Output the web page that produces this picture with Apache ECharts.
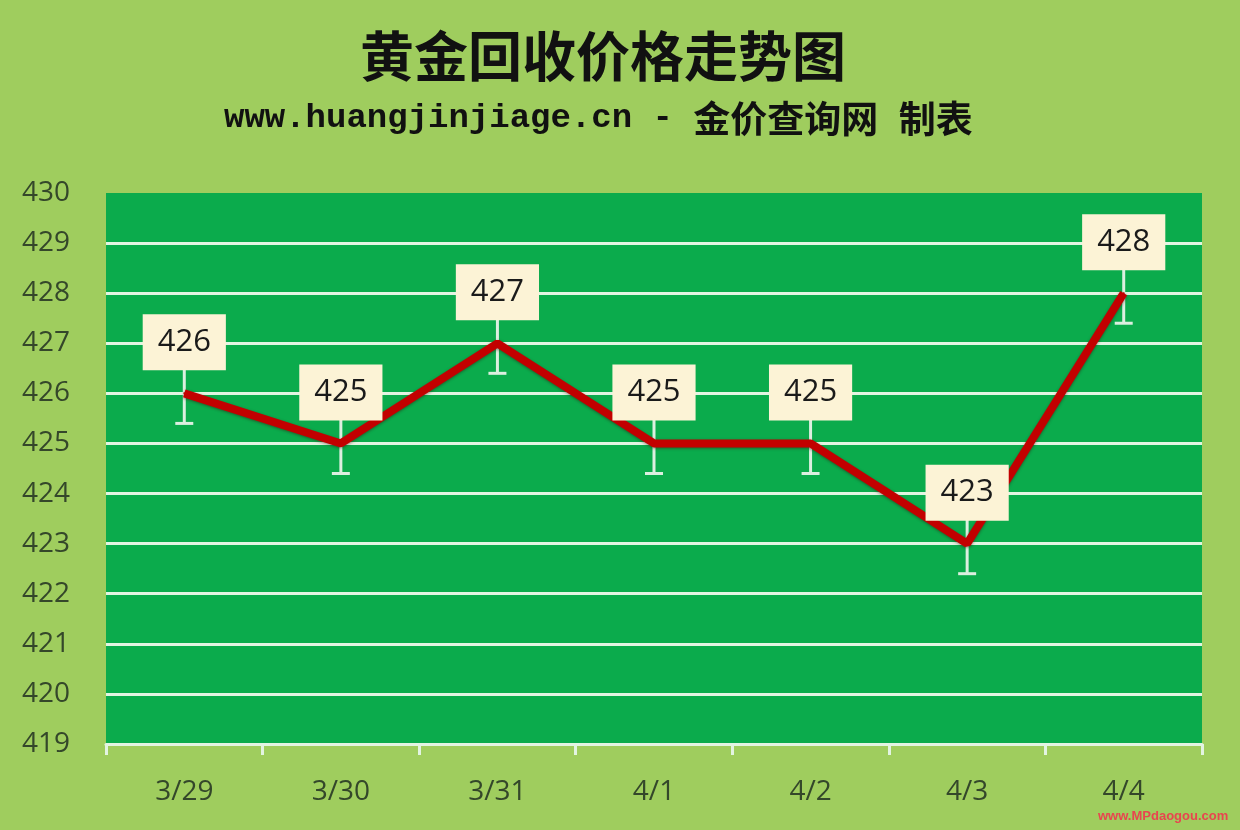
<!DOCTYPE html>
<html>
<head>
<meta charset="utf-8">
<script src="https://cdn.jsdelivr.net/npm/echarts@6/dist/echarts.min.js"></script>
<style>
html,body{margin:0;padding:0;background:#9fcd5e;}
#chart{width:1240px;height:830px;}
</style>
</head>
<body>
<div id="chart"></div>
<script>
const categories = ['3/29', '3/30', '3/31', '4/1', '4/2', '4/3', '4/4'];
const prices = [426, 425, 427, 425, 425, 423, 428];
const errorAmounts = [0.6, 0.6, 0.6, 0.6, 0.6, 0.6, 0.6];
const titleText = '黄金回收价格走势图';
const subtitleUrl = 'www.huangjinjiage.cn - ';
const subtitleSite = '金价查询网';
const subtitleMade = '制表';
const watermarkText = 'www.MPdaogou.com';

const chart = echarts.init(document.getElementById('chart'));
const axisTextColor = '#34472a';
const lightLine = '#e3f4e2';

chart.setOption({
  backgroundColor: '#9fcd5e',
  animation: false,
  grid: {
    left: 106, right: 38, top: 193, bottom: 86,
    show: true, backgroundColor: '#0bab4c', borderWidth: 0
  },
  graphic: [
    { type: 'text', left: 360, top: 29, style: { text: titleText, fontSize: 54, fontWeight: 'bold', fill: '#111', fontFamily: '"Noto Sans CJK SC"' } },
    { type: 'text', top: 100, left: 224, style: {
        text: '{a|' + subtitleUrl + '}{b|' + subtitleSite + '}{a| }{b|' + subtitleMade + '}',
        rich: {
          a: { fontSize: 34, fontWeight: 'bold', fill: '#111', color: '#111', fontFamily: '"Liberation Mono"', lineHeight: 44 },
          b: { fontSize: 37, fontWeight: 'bold', fill: '#111', color: '#111', fontFamily: '"Noto Sans CJK SC"', lineHeight: 44 }
        }
    } },
    { type: 'text', left: 1098, top: 810, style: { text: watermarkText, fontSize: 13, fontWeight: 'bold', fill: '#e8454f', fontFamily: 'Arial, "Liberation Sans"' } }
  ],
  xAxis: {
    type: 'category',
    data: categories,
    boundaryGap: true,
    axisLine: { show: true, lineStyle: { color: lightLine, width: 3 } },
    axisTick: { show: true, length: 11, lineStyle: { color: lightLine, width: 3 } },
    axisLabel: { margin: 34, fontSize: 28, color: axisTextColor, fontFamily: '"Open Sans"' },
    splitLine: { show: false }
  },
  yAxis: {
    type: 'value',
    min: 419, max: 430, interval: 1,
    axisLine: { show: false },
    axisTick: { show: false },
    axisLabel: { margin: 36, fontSize: 28, color: axisTextColor, fontFamily: '"Open Sans"' },
    splitLine: { show: true, showMinLine: false, showMaxLine: false, lineStyle: { color: lightLine, width: 3 } }
  },
  series: [
    {
      type: 'custom',
      z: 1,
      data: prices.map((v, i) => [i, v, errorAmounts[i]]),
      encode: { x: 0, y: 1 },
      renderItem: function (params, api) {
        const x = api.value(0), v = api.value(1), e = api.value(2);
        const top = api.coord([x, v + e]);
        const bot = api.coord([x, v - e]);
        const st = { stroke: '#dcefe0', lineWidth: 3 };
        const cap = 9;
        return {
          type: 'group',
          children: [
            { type: 'line', shape: { x1: top[0], y1: top[1], x2: bot[0], y2: bot[1] }, style: st },
            { type: 'line', shape: { x1: bot[0] - cap, y1: bot[1], x2: bot[0] + cap, y2: bot[1] }, style: st },
            { type: 'line', shape: { x1: top[0] - cap, y1: top[1], x2: top[0] + cap, y2: top[1] }, style: st }
          ]
        };
      }
    },
    {
      type: 'line',
      z: 3,
      data: prices,
      symbol: 'circle',
      symbolSize: 2,
      itemStyle: { color: '#c00000' },
      lineStyle: { color: '#c20000', width: 8, shadowColor: 'rgba(60,0,0,0.45)', shadowBlur: 3, shadowOffsetY: 1 },
      label: {
        show: true,
        position: 'top',
        distance: 22,
        backgroundColor: '#fcf3d6',
        padding: [12, 15, 12, 15],
        lineHeight: 32,
        fontSize: 31,
        color: '#1a1a1a',
        fontFamily: '"Open Sans"'
      }
    }
  ]
});
</script>
</body>
</html>
